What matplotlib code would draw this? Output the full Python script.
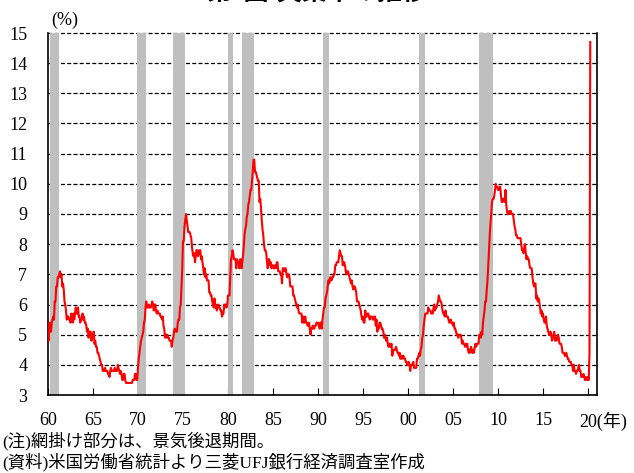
import matplotlib
matplotlib.use('Agg')
import matplotlib.pyplot as plt
import matplotlib.transforms as mtrans
import numpy as np

# US unemployment rate, monthly (%), Jan 1960 - Apr 2020
rates_1960s = [
    5.2, 4.8, 5.4, 5.2, 5.1, 5.4, 5.5, 5.6, 5.5, 6.1, 6.1, 6.6,
    6.6, 6.9, 6.9, 7.0, 7.1, 6.9, 7.0, 6.6, 6.7, 6.5, 6.1, 6.0,
    5.8, 5.5, 5.6, 5.6, 5.5, 5.5, 5.4, 5.7, 5.6, 5.4, 5.7, 5.5,
    5.7, 5.9, 5.7, 5.7, 5.9, 5.6, 5.6, 5.4, 5.5, 5.5, 5.7, 5.5,
    5.6, 5.4, 5.4, 5.3, 5.1, 5.2, 4.9, 5.0, 5.1, 5.1, 4.8, 5.0,
    4.9, 5.1, 4.7, 4.8, 4.6, 4.6, 4.4, 4.4, 4.3, 4.2, 4.1, 4.0,
    4.0, 3.8, 3.8, 3.8, 3.9, 3.8, 3.8, 3.8, 3.7, 3.7, 3.6, 3.8,
    3.9, 3.8, 3.8, 3.8, 3.8, 3.9, 3.8, 3.8, 3.8, 4.0, 3.9, 3.8,
    3.7, 3.8, 3.7, 3.5, 3.5, 3.7, 3.7, 3.5, 3.4, 3.4, 3.4, 3.4,
    3.4, 3.4, 3.4, 3.4, 3.4, 3.5, 3.5, 3.5, 3.7, 3.7, 3.5, 3.5,
]
rates_1970s = [
    3.9, 4.2, 4.4, 4.6, 4.8, 4.9, 5.0, 5.1, 5.4, 5.5, 5.9, 6.1,
    5.9, 5.9, 6.0, 5.9, 5.9, 5.9, 6.0, 6.1, 6.0, 5.8, 6.0, 6.0,
    5.8, 5.7, 5.8, 5.7, 5.7, 5.7, 5.6, 5.6, 5.5, 5.6, 5.3, 5.2,
    4.9, 5.0, 4.9, 5.0, 4.9, 4.9, 4.8, 4.8, 4.8, 4.6, 4.8, 4.9,
    5.1, 5.2, 5.1, 5.1, 5.1, 5.4, 5.5, 5.5, 5.9, 6.0, 6.6, 7.2,
    8.1, 8.1, 8.6, 8.8, 9.0, 8.8, 8.6, 8.4, 8.4, 8.4, 8.3, 8.2,
    7.9, 7.7, 7.6, 7.7, 7.4, 7.6, 7.8, 7.8, 7.6, 7.7, 7.8, 7.8,
    7.5, 7.6, 7.4, 7.2, 7.0, 7.2, 6.9, 7.0, 6.8, 6.8, 6.8, 6.4,
    6.4, 6.3, 6.3, 6.1, 6.0, 5.9, 6.2, 5.9, 6.0, 5.8, 5.9, 6.0,
    5.9, 5.9, 5.8, 5.8, 5.6, 5.7, 5.7, 6.0, 5.9, 6.0, 5.9, 6.0,
]
rates_1980s = [
    6.3, 6.3, 6.3, 6.9, 7.5, 7.6, 7.8, 7.7, 7.5, 7.5, 7.5, 7.2,
    7.5, 7.4, 7.4, 7.2, 7.5, 7.5, 7.2, 7.4, 7.6, 7.9, 8.3, 8.5,
    8.6, 8.9, 9.0, 9.3, 9.4, 9.6, 9.8, 9.8, 10.1, 10.4, 10.8, 10.8,
    10.4, 10.4, 10.3, 10.2, 10.1, 10.1, 9.4, 9.5, 9.2, 8.8, 8.5, 8.3,
    8.0, 7.8, 7.8, 7.7, 7.4, 7.2, 7.5, 7.5, 7.3, 7.4, 7.2, 7.3,
    7.3, 7.2, 7.2, 7.3, 7.2, 7.4, 7.4, 7.1, 7.1, 7.1, 7.0, 7.0,
    6.7, 7.2, 7.2, 7.1, 7.2, 7.2, 7.0, 6.9, 7.0, 7.0, 6.9, 6.6,
    6.6, 6.6, 6.6, 6.3, 6.3, 6.2, 6.1, 6.0, 5.9, 6.0, 5.8, 5.7,
    5.7, 5.7, 5.7, 5.4, 5.6, 5.4, 5.4, 5.6, 5.4, 5.4, 5.3, 5.3,
    5.4, 5.2, 5.0, 5.2, 5.2, 5.3, 5.2, 5.2, 5.3, 5.3, 5.4, 5.4,
]
rates_1990s = [
    5.4, 5.3, 5.2, 5.4, 5.4, 5.2, 5.5, 5.7, 5.9, 5.9, 6.2, 6.3,
    6.4, 6.6, 6.8, 6.7, 6.9, 6.9, 6.8, 6.9, 6.9, 7.0, 7.0, 7.3,
    7.3, 7.4, 7.4, 7.4, 7.6, 7.8, 7.7, 7.6, 7.6, 7.3, 7.4, 7.4,
    7.3, 7.1, 7.0, 7.1, 7.1, 7.0, 6.9, 6.8, 6.7, 6.8, 6.6, 6.5,
    6.6, 6.6, 6.5, 6.4, 6.1, 6.1, 6.1, 6.0, 5.9, 5.8, 5.6, 5.5,
    5.6, 5.4, 5.4, 5.8, 5.6, 5.6, 5.7, 5.7, 5.6, 5.5, 5.6, 5.6,
    5.6, 5.5, 5.5, 5.6, 5.6, 5.3, 5.5, 5.1, 5.2, 5.2, 5.4, 5.4,
    5.3, 5.2, 5.2, 5.1, 4.9, 5.0, 4.9, 4.8, 4.9, 4.7, 4.6, 4.7,
    4.6, 4.6, 4.7, 4.3, 4.4, 4.5, 4.5, 4.5, 4.6, 4.5, 4.4, 4.4,
    4.3, 4.4, 4.2, 4.3, 4.2, 4.3, 4.3, 4.2, 4.2, 4.1, 4.1, 4.0,
]
rates_2000s = [
    4.0, 4.1, 4.0, 3.8, 4.0, 4.0, 4.0, 4.1, 3.9, 3.9, 3.9, 3.9,
    4.2, 4.2, 4.3, 4.4, 4.3, 4.5, 4.6, 4.9, 5.0, 5.3, 5.5, 5.7,
    5.7, 5.7, 5.7, 5.9, 5.8, 5.8, 5.8, 5.7, 5.7, 5.7, 5.9, 6.0,
    5.8, 5.9, 5.9, 6.0, 6.1, 6.3, 6.2, 6.1, 6.1, 6.0, 5.8, 5.7,
    5.7, 5.6, 5.8, 5.6, 5.6, 5.6, 5.5, 5.4, 5.4, 5.5, 5.4, 5.4,
    5.3, 5.4, 5.2, 5.2, 5.1, 5.0, 5.0, 4.9, 5.0, 5.0, 5.0, 4.9,
    4.7, 4.8, 4.7, 4.7, 4.6, 4.6, 4.7, 4.7, 4.5, 4.4, 4.5, 4.4,
    4.6, 4.5, 4.4, 4.5, 4.4, 4.6, 4.7, 4.6, 4.7, 4.7, 4.7, 5.0,
    5.0, 4.9, 5.1, 5.0, 5.4, 5.6, 5.8, 6.1, 6.1, 6.5, 6.8, 7.3,
    7.8, 8.3, 8.7, 9.0, 9.4, 9.5, 9.5, 9.6, 9.8, 10.0, 9.9, 9.9,
]
rates_2010s = [
    9.8, 9.8, 9.9, 9.9, 9.6, 9.4, 9.4, 9.5, 9.5, 9.4, 9.8, 9.3,
    9.1, 9.0, 9.0, 9.1, 9.0, 9.1, 9.0, 9.0, 9.0, 8.8, 8.6, 8.5,
    8.3, 8.3, 8.2, 8.2, 8.2, 8.2, 8.2, 8.0, 7.8, 7.8, 7.7, 7.9,
    8.0, 7.7, 7.5, 7.6, 7.5, 7.5, 7.3, 7.2, 7.2, 7.2, 6.9, 6.7,
    6.6, 6.7, 6.7, 6.2, 6.3, 6.1, 6.2, 6.1, 5.9, 5.7, 5.8, 5.6,
    5.7, 5.5, 5.4, 5.4, 5.6, 5.3, 5.2, 5.1, 5.0, 5.0, 5.1, 5.0,
    4.8, 4.9, 5.0, 5.1, 4.8, 4.9, 4.8, 4.9, 5.0, 4.9, 4.7, 4.7,
    4.7, 4.6, 4.4, 4.4, 4.4, 4.3, 4.3, 4.4, 4.3, 4.2, 4.2, 4.1,
    4.1, 4.1, 4.0, 4.0, 3.8, 4.0, 3.8, 3.8, 3.7, 3.8, 3.8, 3.9,
    4.0, 3.8, 3.8, 3.6, 3.6, 3.6, 3.7, 3.6, 3.5, 3.6, 3.5, 3.5,
]
rates_2020 = [3.6, 3.5, 4.4, 14.7]
start_year = 1960

# Recession periods (peak month, trough month)
rec_start = [(1960, 4), (1969, 12), (1973, 11), (1980, 1), (1981, 7), (1990, 7), (2001, 3), (2007, 12)]
rec_end = [(1961, 2), (1970, 11), (1975, 3), (1980, 7), (1982, 11), (1991, 3), (2001, 11), (2009, 6)]

y_ticks = list(range(3, 16))
x_ticks = list(range(1960, 2021, 5))
x_tick_labels = ['60', '65', '70', '75', '80', '85', '90', '95', '00', '05', '10', '15', '20(年)']

rates = np.array(rates_1960s + rates_1970s + rates_1980s + rates_1990s
                 + rates_2000s + rates_2010s + rates_2020)
x = start_year + np.arange(len(rates)) / 12.0

serif = ['Liberation Serif', 'Noto Sans CJK JP', 'DejaVu Sans']
plt.rcParams['font.family'] = serif

fig = plt.figure(figsize=(6.34, 4.73), dpi=100)
ax = fig.add_axes([48 / 634, 1 - 395 / 473, (597 - 48) / 634, (395 - 33) / 473])

for (ys, ms), (ye, me) in zip(rec_start, rec_end):
    ax.axvspan(ys + (ms - 1) / 12.0, ye + me / 12.0, color='#bfbfbf', lw=0, zorder=2)

for yv in y_ticks[1:]:
    ax.axhline(yv, color='black', lw=0.9, ls=(0, (3.2, 1.8)), zorder=1, clip_on=False)

ax.plot(x, rates, color='#ff0000', lw=1.5, zorder=3)

ax.set_xlim(1960, 2021)
ax.set_ylim(3, 15)
ax.set_yticks(y_ticks)
ax.set_yticklabels([str(v) for v in y_ticks])
ax.set_xticks(x_ticks)
ax.set_xticklabels(x_tick_labels)
ax.tick_params(axis='y', length=0, pad=15, labelsize=13)
ax.tick_params(axis='x', direction='in', length=5, width=0.8, pad=12, labelsize=13)
ax.spines['top'].set_visible(False)
for s in ['left', 'right', 'bottom']:
    ax.spines[s].set_linewidth(1.2)

# last label: keep "20" centred on its tick, with "(年)" following it
lbl = ax.get_xticklabels()[-1]
lbl.set_horizontalalignment('left')
lbl.set_transform(lbl.get_transform() + mtrans.ScaledTranslation(-8.5 / 100, 0, fig.dpi_scale_trans))

fig.text(65 / 634, 1 - 20 / 473, '(%)', ha='center', va='center', fontsize=13, family=serif)
fig.text(0.5, 1 - 6 / 473, '第2図:失業率の推移', ha='center', va='bottom', fontsize=18,
         fontweight='bold', family=serif)
fig.text(2 / 634, 1 - 441 / 473, '(注)網掛け部分は、景気後退期間。', ha='left', va='center',
         fontsize=12.5, family=serif)
fig.text(2 / 634, 1 - 462 / 473, '(資料)米国労働省統計より三菱UFJ銀行経済調査室作成', ha='left',
         va='center', fontsize=12.5, family=serif)

fig.savefig('out.png', dpi=100)
